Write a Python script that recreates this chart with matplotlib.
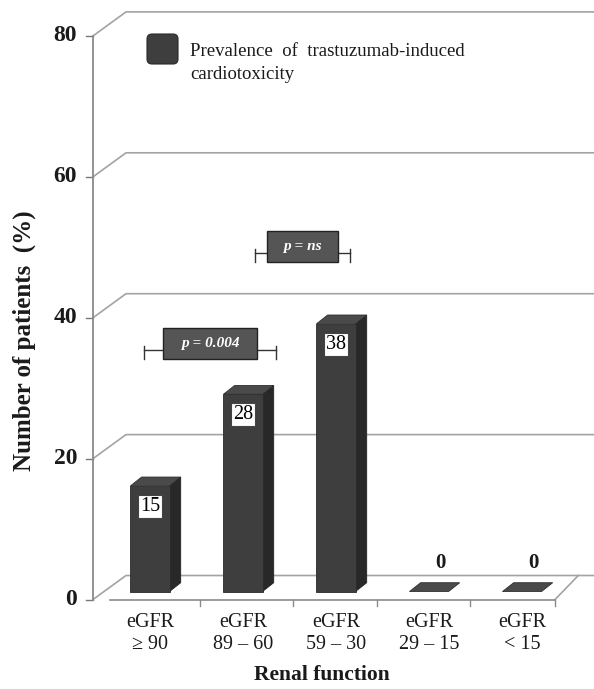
import matplotlib.pyplot as plt
from matplotlib.patches import Polygon, Rectangle, FancyBboxPatch

# data
categories = ["eGFR\n\u2265 90", "eGFR\n89 \u2013 60", "eGFR\n59 \u2013 30",
              "eGFR\n29 \u2013 15", "eGFR\n< 15"]
prevalence = [15, 28, 38, 0, 0]
yticks = [0, 20, 40, 60, 80]
p_labels = ["p = 0.004", "p = ns"]
p_spans = [(-0.06, 1.36), (1.13, 2.15)]
p_levels = [35.4, 49.2]

SERIF = "Liberation Serif"
GRID = "#a3a3a3"
DX, DY = 0.355, 3.41          # depth of the floor / back wall
BAR_W = 0.42
BAR_Z0 = 1 / 3                # bar front plane, fraction of depth
BAR_DX, BAR_DY = 0.12, 1.25   # bar thickness in depth

fig = plt.figure(figsize=(5.94, 6.89), dpi=100)
ax = fig.add_axes([0, 0, 1, 1])
ax.set_xlim(-1.613, 4.774)
ax.set_ylim(-12.7, 85.1)
ax.axis("off")

x_front = -0.613
# back wall gridlines with the diagonal to the front axis
for t in yticks:
    ax.plot([x_front, x_front + DX, 4.9], [t, t + DY, t + DY],
            color=GRID, lw=1.2, solid_capstyle="butt", zorder=1)
    ax.plot([x_front - 0.075, x_front], [t, t], color="#777777", lw=1.0, zorder=2)
    ax.text(x_front - 0.17, t, str(t), ha="right", va="center", fontsize=17,
            fontweight="bold", family=SERIF, color="#1a1a1a")
ax.plot([x_front, x_front], [0, 80], color="#8a8a8a", lw=1.3, zorder=2)

# floor front edge and category separators
edges = [0.538, 1.538, 2.441, 3.441, 4.355]
ax.plot([-0.43, edges[-1]], [0, 0], color="#8a8a8a", lw=1.2, zorder=2)
for e in edges:
    ax.plot([e, e], [0, -0.9], color="#8a8a8a", lw=1.0, zorder=2)
ax.plot([edges[-1], edges[-1] + 0.25], [0, DY], color=GRID, lw=1.2, zorder=1)

# 3d bars
y0 = DY * BAR_Z0
for i, v in enumerate(prevalence):
    x0, x1 = i - BAR_W / 2, i + BAR_W / 2
    top = y0 + v
    if v > 0:
        ax.add_patch(Polygon([(x0, y0), (x1, y0), (x1, top), (x0, top)],
                             closed=True, fc="#3e3e3e", ec="#2a2a2a", lw=0.6, zorder=4))
        ax.add_patch(Polygon([(x1, y0), (x1 + BAR_DX, y0 + BAR_DY),
                              (x1 + BAR_DX, top + BAR_DY), (x1, top)],
                             closed=True, fc="#282828", ec="#222222", lw=0.6, zorder=3))
    ax.add_patch(Polygon([(x0, top), (x1, top), (x1 + BAR_DX, top + BAR_DY),
                          (x0 + BAR_DX, top + BAR_DY)],
                         closed=True, fc="#4a4a4a", ec="#2e2e2e", lw=0.6, zorder=4))
    if v > 0:
        ax.text(i, top - 2.9, str(v), ha="center", va="center", fontsize=14.5,
                family=SERIF, color="black", zorder=5,
                bbox=dict(boxstyle="square,pad=0.1", fc="white", ec="#444444", lw=0.8))
    else:
        ax.text(i + 0.12, top + 4.1, str(v), ha="center", va="center", fontsize=15,
                fontweight="bold", family=SERIF, color="#1a1a1a")

# significance brackets
box_w = [1.01, 0.76]
for lab, (a, b), lev, bw in zip(p_labels, p_spans, p_levels, box_w):
    ax.plot([a, b], [lev, lev], color="#333333", lw=1.0, zorder=5)
    for e in (a, b):
        ax.plot([e, e], [lev + 0.6, lev - 1.3], color="#333333", lw=1.0, zorder=5)
    cx = (a + b) / 2
    ax.add_patch(Rectangle((cx - bw / 2, lev - 1.3), bw, 4.4, fc="#555555",
                           ec="#222222", lw=1.0, zorder=6))
    ax.text(cx, lev + 0.9, lab, ha="center", va="center", fontsize=11,
            fontweight="bold", fontstyle="italic", family=SERIF, color="white", zorder=7)

# category labels and axis titles
for i, c in enumerate(categories):
    ax.text(i, -1.9, c, ha="center", va="top", fontsize=14.5, family=SERIF,
            color="#1a1a1a", linespacing=1.25)
ax.text(1.85, -10.7, "Renal function", ha="center", va="center", fontsize=15.5,
        fontweight="bold", family=SERIF, color="#1a1a1a")
fig.text(24 / 594, 1 - 341 / 689, "Number of patients  (%)", rotation=90,
         ha="center", va="center", fontsize=18, fontweight="bold", family=SERIF,
         color="#1a1a1a")

# legend
fig.add_artist(FancyBboxPatch((1.47, 6.25), 0.31, 0.30,
                              boxstyle="round,pad=0,rounding_size=0.05",
                              transform=fig.dpi_scale_trans, fc="#3e3e3e",
                              ec="#2a2a2a", lw=0.8))
fig.text(190 / 594, 1 - 63 / 689, "Prevalence  of  trastuzumab-induced\ncardiotoxicity",
         ha="left", va="center", fontsize=13.5, family=SERIF, color="#1a1a1a",
         linespacing=1.4)

fig.savefig("out.png", dpi=100)
